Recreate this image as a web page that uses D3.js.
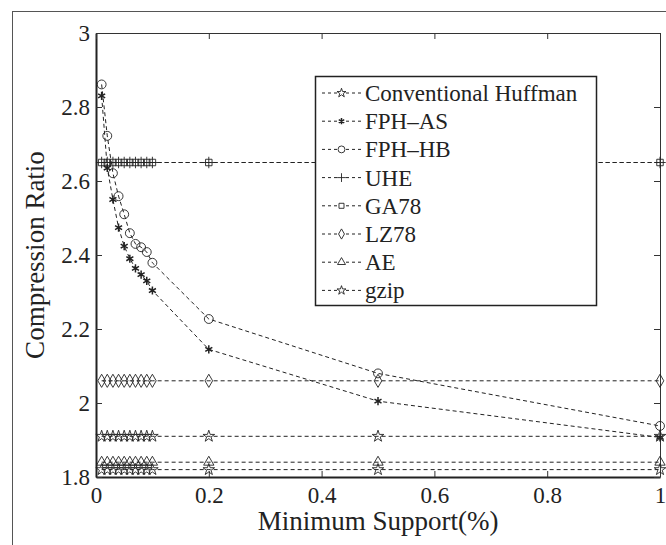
<!DOCTYPE html>
<html>
	<head>
		<meta http-equiv="Content-Type" content="text/html;charset=utf-8"/>
		<title>Compression Ratio</title>
		<script src="https://d3js.org/d3.v7.min.js"></script>
		<style type="text/css">
			body { margin: 0; background: #fff; }
			text { font-family: "Liberation Serif", "DejaVu Serif", serif; fill: #222; }
			.series path.line { fill: none; stroke: #222; stroke-width: 1; stroke-dasharray: 4,3; }
			.mark { fill: none; stroke: #222; stroke-width: 0.9; }
			.mark.bold { stroke-width: 1.5; }
		</style>
	</head>
	<body>
		<script type="text/javascript">

			//Data
			var support = [0.01, 0.02, 0.03, 0.04, 0.05, 0.06, 0.07, 0.08, 0.09, 0.1, 0.2, 0.5, 1];
			var conventional = [1.91, 1.91, 1.91, 1.91, 1.91, 1.91, 1.91, 1.91, 1.91, 1.91, 1.91, 1.91, 1.91];
			var fphAS = [2.83, 2.635, 2.55, 2.474, 2.424, 2.39, 2.364, 2.347, 2.33, 2.304, 2.145, 2.005, 1.907];
			var fphHB = [2.861, 2.722, 2.621, 2.559, 2.51, 2.459, 2.43, 2.421, 2.408, 2.379, 2.227, 2.08, 1.938];
			var uhe = [2.65, 2.65, 2.65, 2.65, 2.65, 2.65, 2.65, 2.65, 2.65, 2.65, 2.65, 2.65, 2.65];
			var ga78 = [2.65, 2.65, 2.65, 2.65, 2.65, 2.65, 2.65, 2.65, 2.65, 2.65, 2.65, 2.65, 2.65];
			var lz78 = [2.06, 2.06, 2.06, 2.06, 2.06, 2.06, 2.06, 2.06, 2.06, 2.06, 2.06, 2.06, 2.06];
			var ae = [1.84, 1.84, 1.84, 1.84, 1.84, 1.84, 1.84, 1.84, 1.84, 1.84, 1.84, 1.84, 1.84];
			var gzip = [1.82, 1.82, 1.82, 1.82, 1.82, 1.82, 1.82, 1.82, 1.82, 1.82, 1.82, 1.82, 1.82];

			var seriesNames = ["Conventional Huffman", "FPH\u2013AS", "FPH\u2013HB", "UHE", "GA78", "LZ78", "AE", "gzip"];
			var xTicks = [0, 0.2, 0.4, 0.6, 0.8, 1];
			var yTicks = [1.8, 2, 2.2, 2.4, 2.6, 2.8, 3];

			var w = 666,
				h = 545;
			var mLeft = 96, mRight = 660, mTop = 33, mBottom = 477;

			var x = d3.scaleLinear().domain([0, 1]).range([mLeft, mRight]);
			var y = d3.scaleLinear().domain([1.8, 3]).range([mBottom, mTop]);

			//marker shapes, size is area in px^2
			var shapes = [
				{ type: d3.symbolStar, size: 42, bold: false },
				{ type: d3.symbolAsterisk, size: 46, bold: true },
				{ type: d3.symbolCircle, size: 62, bold: false },
				{ type: d3.symbolPlus, size: 45, bold: false },
				{ type: d3.symbolSquare, size: 42, bold: false },
				{ type: d3.symbolDiamond, size: 50, bold: false },
				{ type: d3.symbolTriangle, size: 46, bold: false },
				{ type: d3.symbolStar, size: 42, bold: false }
			];

			var allValues = [conventional, fphAS, fphHB, uhe, ga78, lz78, ae, gzip];
			var series = allValues.map(function(vals, i) {
				return {
					name: seriesNames[i],
					shape: shapes[i],
					points: vals.map(function(v, j) { return { x: support[j], y: v }; })
				};
			});

			var svg = d3.select("body").append("svg")
						.attr("width", w)
						.attr("height", h);

			//outer figure frame
			svg.append("rect")
				.attr("x", 12.5).attr("y", 11.5)
				.attr("width", 700).attr("height", 600)
				.attr("fill", "none")
				.attr("stroke", "#555")
				.attr("stroke-width", 1);

			//axes
			svg.append("g")
				.attr("transform", "translate(0," + mBottom + ")")
				.call(d3.axisBottom(x).tickValues(xTicks).tickSizeInner(-6).tickSizeOuter(0).tickPadding(10)
					.tickFormat(function(d) { return d === 0 || d === 1 ? d : d3.format(".1f")(d); }))
				.call(function(g) {
					g.select(".domain").attr("stroke", "#222").attr("stroke-width", 2);
					g.selectAll(".tick line").attr("stroke", "#333");
					g.selectAll(".tick text").attr("font-size", 23).attr("fill", "#222").attr("font-family", "Liberation Serif");
				});

			svg.append("g")
				.attr("transform", "translate(" + mLeft + ",0)")
				.call(d3.axisLeft(y).tickValues(yTicks).tickSizeInner(-6).tickSizeOuter(0).tickPadding(6)
					.tickFormat(function(d) { return d === 2 || d === 3 ? d : d3.format(".1f")(d); }))
				.call(function(g) {
					g.select(".domain").attr("stroke", "#222").attr("stroke-width", 2);
					g.selectAll(".tick line").attr("stroke", "#333");
					g.selectAll(".tick text").attr("font-size", 23).attr("fill", "#222").attr("font-family", "Liberation Serif");
				});

			//mirror ticks top and right
			svg.append("g")
				.attr("transform", "translate(0," + mTop + ")")
				.call(d3.axisTop(x).tickValues(xTicks).tickSizeInner(-6).tickSizeOuter(0).tickFormat(""))
				.call(function(g) { g.select(".domain").attr("stroke", "#333"); g.selectAll(".tick line").attr("stroke", "#333"); });

			svg.append("g")
				.attr("transform", "translate(" + mRight + ",0)")
				.call(d3.axisRight(y).tickValues(yTicks).tickSizeInner(-6).tickSizeOuter(0).tickFormat(""))
				.call(function(g) { g.select(".domain").attr("stroke", "#333"); g.selectAll(".tick line").attr("stroke", "#333"); });

			//axis titles
			svg.append("text")
				.attr("x", (mLeft + mRight) / 2)
				.attr("y", 530)
				.attr("text-anchor", "middle")
				.attr("font-size", 27)
				.text("Minimum Support(%)");

			svg.append("text")
				.attr("transform", "translate(44," + (mTop + mBottom) / 2 + ") rotate(-90)")
				.attr("text-anchor", "middle")
				.attr("font-size", 27)
				.text("Compression Ratio");

			//lines and markers
			var line = d3.line()
				.x(function(d) { return x(d.x); })
				.y(function(d) { return y(d.y); });

			var groups = svg.selectAll("g.series")
				.data(series)
				.enter()
				.append("g")
				.attr("class", "series");

			groups.append("path")
				.attr("class", "line")
				.attr("d", function(d) { return line(d.points); });

			groups.each(function(s) {
				d3.select(this).selectAll("path.mark")
					.data(s.points)
					.enter()
					.append("path")
					.attr("class", s.shape.bold ? "mark bold" : "mark")
					.attr("transform", function(d) { return "translate(" + x(d.x) + "," + y(d.y) + ")"; })
					.attr("d", d3.symbol().type(s.shape.type).size(s.shape.size));
			});

			//legend
			var lx = 315.5, ly = 76.5, lw = 281, lh = 229;
			var legend = svg.append("g");
			legend.append("rect")
				.attr("x", lx).attr("y", ly)
				.attr("width", lw).attr("height", lh)
				.attr("fill", "#fff")
				.attr("stroke", "#222")
				.attr("stroke-width", 1.5);

			var items = legend.selectAll("g.item")
				.data(series)
				.enter()
				.append("g")
				.attr("class", "item")
				.attr("transform", function(d, i) { return "translate(0," + (93 + i * 28.2) + ")"; });

			items.append("line")
				.attr("x1", 322).attr("x2", 362)
				.attr("stroke", "#222")
				.attr("stroke-dasharray", "3,3");

			items.append("rect")
				.attr("x", 337).attr("y", -4)
				.attr("width", 9).attr("height", 8)
				.attr("fill", "#fff");

			items.append("path")
				.attr("class", function(d) { return d.shape.bold ? "mark bold" : "mark"; })
				.attr("transform", "translate(341.5,0)")
				.attr("d", function(d) { return d3.symbol().type(d.shape.type).size(d.shape.size * 0.6)(); });

			items.append("text")
				.attr("x", 365)
				.attr("dy", "0.35em")
				.attr("font-size", 23)
				.text(function(d) { return d.name; });

		</script>
	</body>
</html>
